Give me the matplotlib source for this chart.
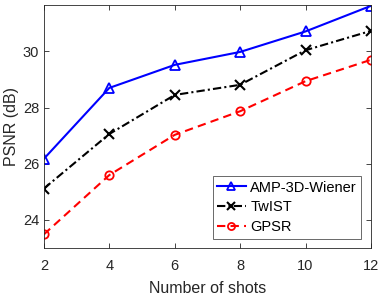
import matplotlib
matplotlib.use("Agg")
import matplotlib.pyplot as plt

shots = [2, 4, 6, 8, 10, 12]
amp = [26.18, 28.70, 29.52, 29.98, 30.71, 31.62]
twist = [25.12, 27.06, 28.45, 28.81, 30.04, 30.73]
gpsr = [23.49, 25.60, 27.03, 27.87, 28.94, 29.70]
xticks = [2, 4, 6, 8, 10, 12]
yticks = [24, 26, 28, 30]

plt.rcParams['font.family'] = ['Liberation Sans', 'DejaVu Sans']
fig = plt.figure(figsize=(3.82, 2.95), dpi=100)
ax = fig.add_axes([0.115, 0.159, 0.856, 0.824])

ax.plot(shots, amp, color='#0000ff', ls='-', lw=1.5, marker='^', ms=7,
        mfc='none', mew=1.3, label='AMP-3D-Wiener')
ax.plot(shots, twist, color='black', ls=(0, (4, 1.5, 1, 1.5)), lw=1.5, marker='x', ms=7,
        mew=1.5, label='TwIST')
ax.plot(shots, gpsr, color='#ff0000', ls=(0, (4, 2.5)), lw=1.5, marker='o', ms=6,
        mfc='none', mew=1.3, label='GPSR')

ax.set_xlim(2, 12)
ax.set_ylim(23, 31.65)
ax.set_xticks(xticks)
ax.set_yticks(yticks)
ax.tick_params(direction='in', top=True, right=True, labelsize=10.5,
               color='#262626', labelcolor='#262626', length=3.5, width=0.6)
ax.tick_params(axis='x', pad=7.5)
for s in ax.spines.values():
    s.set_color('#262626')
    s.set_linewidth(0.6)
ax.set_xlabel('Number of shots', fontsize=11.5, color='#262626', labelpad=6)
ax.set_ylabel('PSNR (dB)', fontsize=11.5, color='#262626', labelpad=3)

leg = ax.legend(loc='lower right', fontsize=10.5, frameon=True, fancybox=False,
                edgecolor='#262626', handlelength=2.0, handletextpad=0.3,
                borderpad=0.3, labelspacing=0.4, borderaxespad=0.65,
                markerscale=0.85)
leg.get_frame().set_linewidth(0.6)

fig.savefig('out.png', dpi=100)
